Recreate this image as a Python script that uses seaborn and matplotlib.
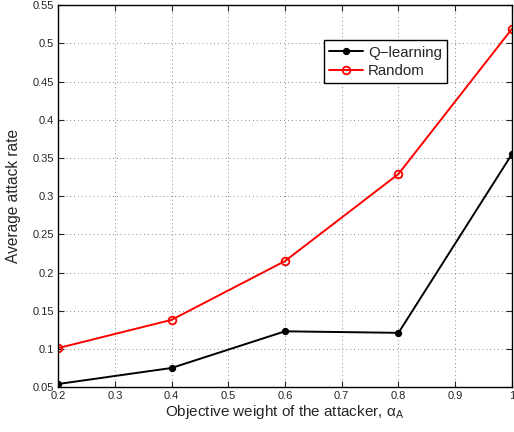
import matplotlib
matplotlib.use("Agg")
import matplotlib.pyplot as plt
import seaborn as sns
import pandas as pd

alpha = [0.2, 0.4, 0.6, 0.8, 1.0]
q_learning = [0.054, 0.075, 0.123, 0.121, 0.355]
random_vals = [0.101, 0.138, 0.215, 0.329, 0.519]
xticks = [0.2, 0.3, 0.4, 0.5, 0.6, 0.7, 0.8, 0.9, 1.0]
xticklabels = ["0.2", "0.3", "0.4", "0.5", "0.6", "0.7", "0.8", "0.9", "1"]
yticks = [0.05, 0.1, 0.15, 0.2, 0.25, 0.3, 0.35, 0.4, 0.45, 0.5, 0.55]
yticklabels = ["0.05", "0.1", "0.15", "0.2", "0.25", "0.3", "0.35", "0.4", "0.45", "0.5", "0.55"]

sns.set_style("white")
plt.rcParams['font.family'] = ['Liberation Sans', 'DejaVu Sans']
plt.rcParams['mathtext.fontset'] = 'custom'
plt.rcParams['mathtext.rm'] = 'Liberation Sans'
plt.rcParams['mathtext.it'] = 'Liberation Sans:italic'

fig = plt.figure(figsize=(5.14, 4.32), dpi=100)
ax = fig.add_axes([0.113, 0.104, 0.883, 0.884])

df = pd.DataFrame({"x": alpha, "Q-learning": q_learning, "Random": random_vals})
sns.lineplot(data=df, x="x", y="Q-learning", ax=ax, color="black", lw=1.4,
             marker="o", markersize=4.5, markeredgecolor="black", label="Q\u2212learning")
sns.lineplot(data=df, x="x", y="Random", ax=ax, color="red", lw=1.4,
             marker="o", markersize=5.5, markerfacecolor="none", markeredgecolor="red",
             markeredgewidth=1.3, label="Random")

ax.set_xlim(0.2, 1.0)
ax.set_ylim(0.05, 0.55)
ax.set_xticks(xticks)
ax.set_xticklabels(xticklabels)
ax.set_yticks(yticks)
ax.set_yticklabels(yticklabels)
ax.tick_params(axis="both", labelsize=8, direction="in", length=4, width=0.8,
               top=True, right=True, bottom=True, left=True, pad=3)
ax.grid(True, linestyle=(0, (1, 3)), color="#888888", linewidth=0.7)
for s in ax.spines.values():
    s.set_color("black")
    s.set_linewidth(1.0)

ax.set_xlabel("Objective weight of the attacker, \u03b1$_\\mathrm{A}$", fontsize=11, labelpad=1)
ax.set_ylabel("Average attack rate", fontsize=11.2, labelpad=8)

leg = ax.legend(loc="upper right", bbox_to_anchor=(0.857, 0.908), fontsize=10.8,
                frameon=True, fancybox=False, edgecolor="black", framealpha=1,
                handlelength=2.3, borderpad=0.35, labelspacing=0.3, handletextpad=0.3,
                borderaxespad=0)
leg.get_frame().set_linewidth(1.0)

fig.savefig("out.png", dpi=100)
